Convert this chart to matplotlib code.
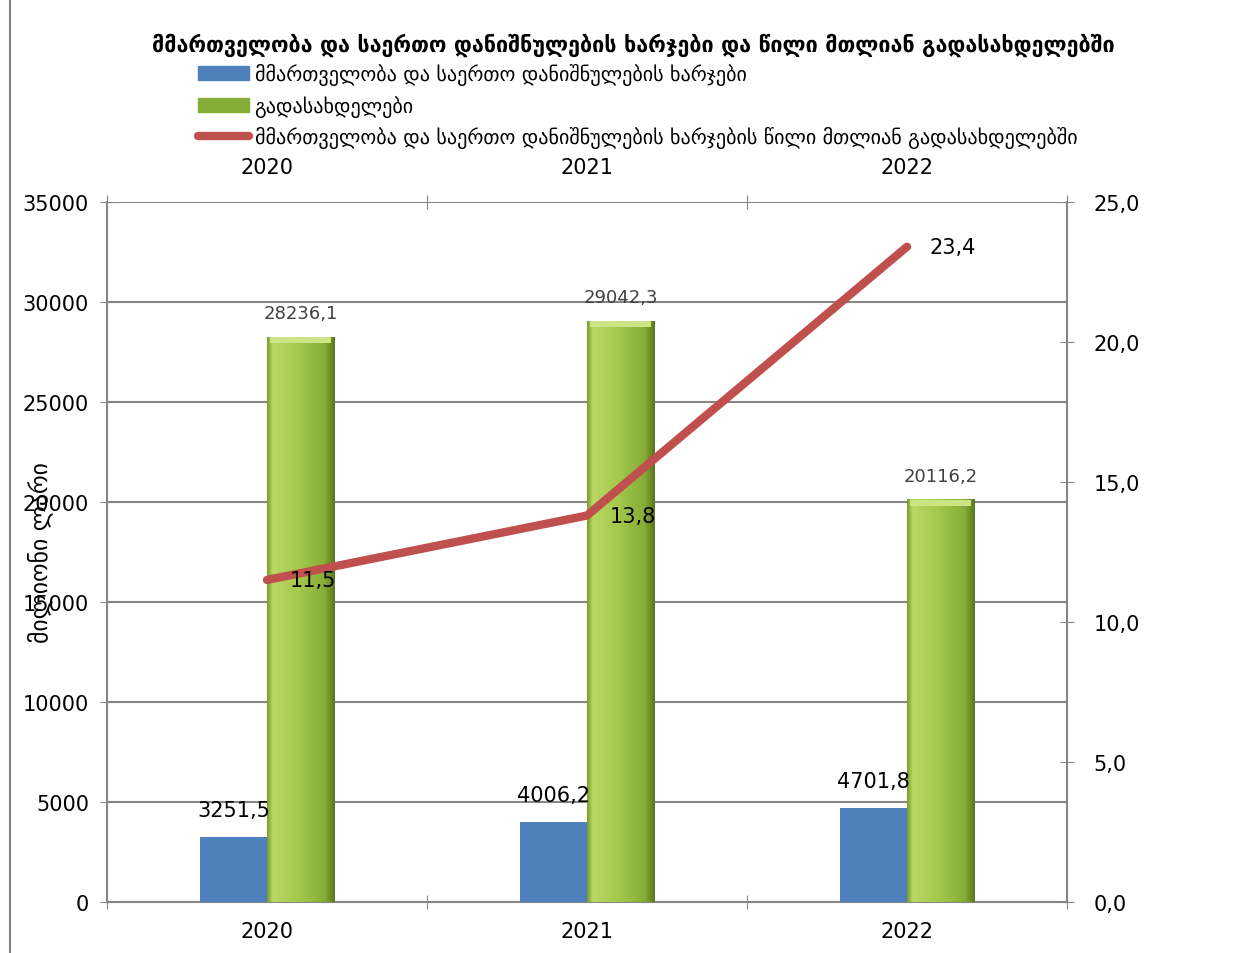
import matplotlib.pyplot as plt
import numpy as np
from matplotlib.lines import Line2D
from matplotlib.patches import Patch
from matplotlib.colors import LinearSegmentedColormap

years = ['2020', '2021', '2022']
costs = [3251.5, 4006.2, 4701.8]
payments = [28236.1, 29042.3, 20116.2]
share = [11.5, 13.8, 23.4]

cost_labels = ['3251,5', '4006,2', '4701,8']
pay_labels = ['28236,1', '29042,3', '20116,2']
share_labels = ['11,5', '13,8', '23,4']

title = 'მმართველობა და საერთო დანიშნულების ხარჯები და წილი მთლიან გადასახდელებში'
name_costs = 'მმართველობა და საერთო დანიშნულების ხარჯები'
name_pay = 'გადასახდელები'
name_share = 'მმართველობა და საერთო დანიშნულების ხარჯების წილი მთლიან გადასახდელებში'
ylab = 'მილიონი ლარი'

plt.rcParams['font.family'] = ['DejaVu Sans']
grey = '#868686'

fig = plt.figure(figsize=(12.54, 9.54), dpi=100)
ax = fig.add_axes([0.0853, 0.0535, 0.7656, 0.7338])

x = np.arange(len(years))
w = 0.21

# blue bars
ax.bar(x - w / 2, costs, w, color='#4F81BD', zorder=3)

# green bars, shaded left to right like the original 3d-ish look
gcm = LinearSegmentedColormap.from_list('g', [(0, '#7f9f30'), (0.08, '#b9d866'), (0.45, '#a4c94c'),
                                             (0.85, '#88ad38'), (1, '#5a781c')])
shade = np.linspace(0, 1, 80)
for xi, v in zip(x, payments):
    ax.imshow(shade[np.newaxis, :], cmap=gcm, aspect='auto',
              extent=[xi, xi + w, 0, v], zorder=3, vmin=0, vmax=1)
    ax.add_patch(plt.Rectangle((xi + 0.01, v - 300), w - 0.02, 300, color='#cbe585', zorder=4, lw=0))
ax.set_xlim(-0.5, 2.5)
ax.set_ylim(0, 35000)

for xi, v, s in zip(x, costs, cost_labels):
    ax.text(xi - w / 2, v + 1350, s, ha='center', va='center', fontsize=15, color='black', zorder=6)
for xi, v, s in zip(x, payments, pay_labels):
    ax.text(xi + w / 2, v + 1200, s, ha='center', va='center', fontsize=13, color='#404040', zorder=6)

ax.set_yticks(np.arange(0, 35001, 5000))
ax.tick_params(axis='y', labelsize=15, direction='inout', length=10, color=grey, pad=8)
ax.yaxis.grid(True, color=grey, lw=1.5, zorder=0)
ax.set_axisbelow(True)
ax.set_xticks([-0.5, 0.5, 1.5, 2.5])
ax.set_xticklabels([])
ax.set_xticks(x, minor=True)
ax.set_xticklabels(years, minor=True, fontsize=15)
ax.tick_params(axis='x', which='major', direction='inout', length=10, color=grey)
ax.tick_params(axis='x', which='minor', length=0, pad=14)
for side in ['left', 'bottom']:
    ax.spines[side].set_color(grey)
    ax.spines[side].set_linewidth(1.5)
ax.spines['top'].set_visible(False)
ax.spines['right'].set_visible(False)
ax.set_ylabel(ylab, fontsize=17, labelpad=-22)

# share line on the right axis
ax2 = ax.twinx()
ax2.set_ylim(0, 25)
ax2.set_yticks(np.arange(0, 25.1, 5))
ax2.set_yticklabels([f'{t:.1f}'.replace('.', ',') for t in np.arange(0, 25.1, 5)])
ax2.tick_params(axis='y', labelsize=15, direction='inout', length=10, color=grey, pad=14)
ax2.spines['right'].set_color(grey)
ax2.spines['right'].set_linewidth(1.5)
for side in ['left', 'bottom', 'top']:
    ax2.spines[side].set_visible(False)
ax2.plot(x, share, color='#C0504D', lw=6, solid_capstyle='round', zorder=5)
for xi, v, s in zip(x, share, share_labels):
    ax2.text(xi + 0.07, v, s, ha='left', va='center', fontsize=15, color='black', zorder=6)

top = ax.secondary_xaxis('top')
top.set_xticks([-0.5, 0.5, 1.5, 2.5])
top.set_xticklabels([])
top.set_xticks(x, minor=True)
top.set_xticklabels(years, minor=True, fontsize=15)
top.tick_params(axis='x', which='major', direction='inout', length=10, color=grey)
top.tick_params(axis='x', which='minor', length=0, pad=18)
top.spines['top'].set_visible(False)

fig.text(0.505, 0.953, title, ha='center', va='center', fontsize=15.5, fontweight='bold')

handles = [Patch(color='#4F81BD'), Patch(color='#86ad35'),
           Line2D([0], [0], color='#C0504D', lw=6, solid_capstyle='round')]
fig.legend(handles, [name_costs, name_pay, name_share], loc='upper left',
           bbox_to_anchor=(0.150, 0.943), frameon=False, fontsize=14.5,
           handlelength=2.5, handletextpad=0.3, labelspacing=0.47, borderpad=0)

fig.add_artist(Line2D([0.008, 0.008], [0, 1], color=grey, lw=1.5, transform=fig.transFigure))

fig.savefig('out.png', dpi=100)
